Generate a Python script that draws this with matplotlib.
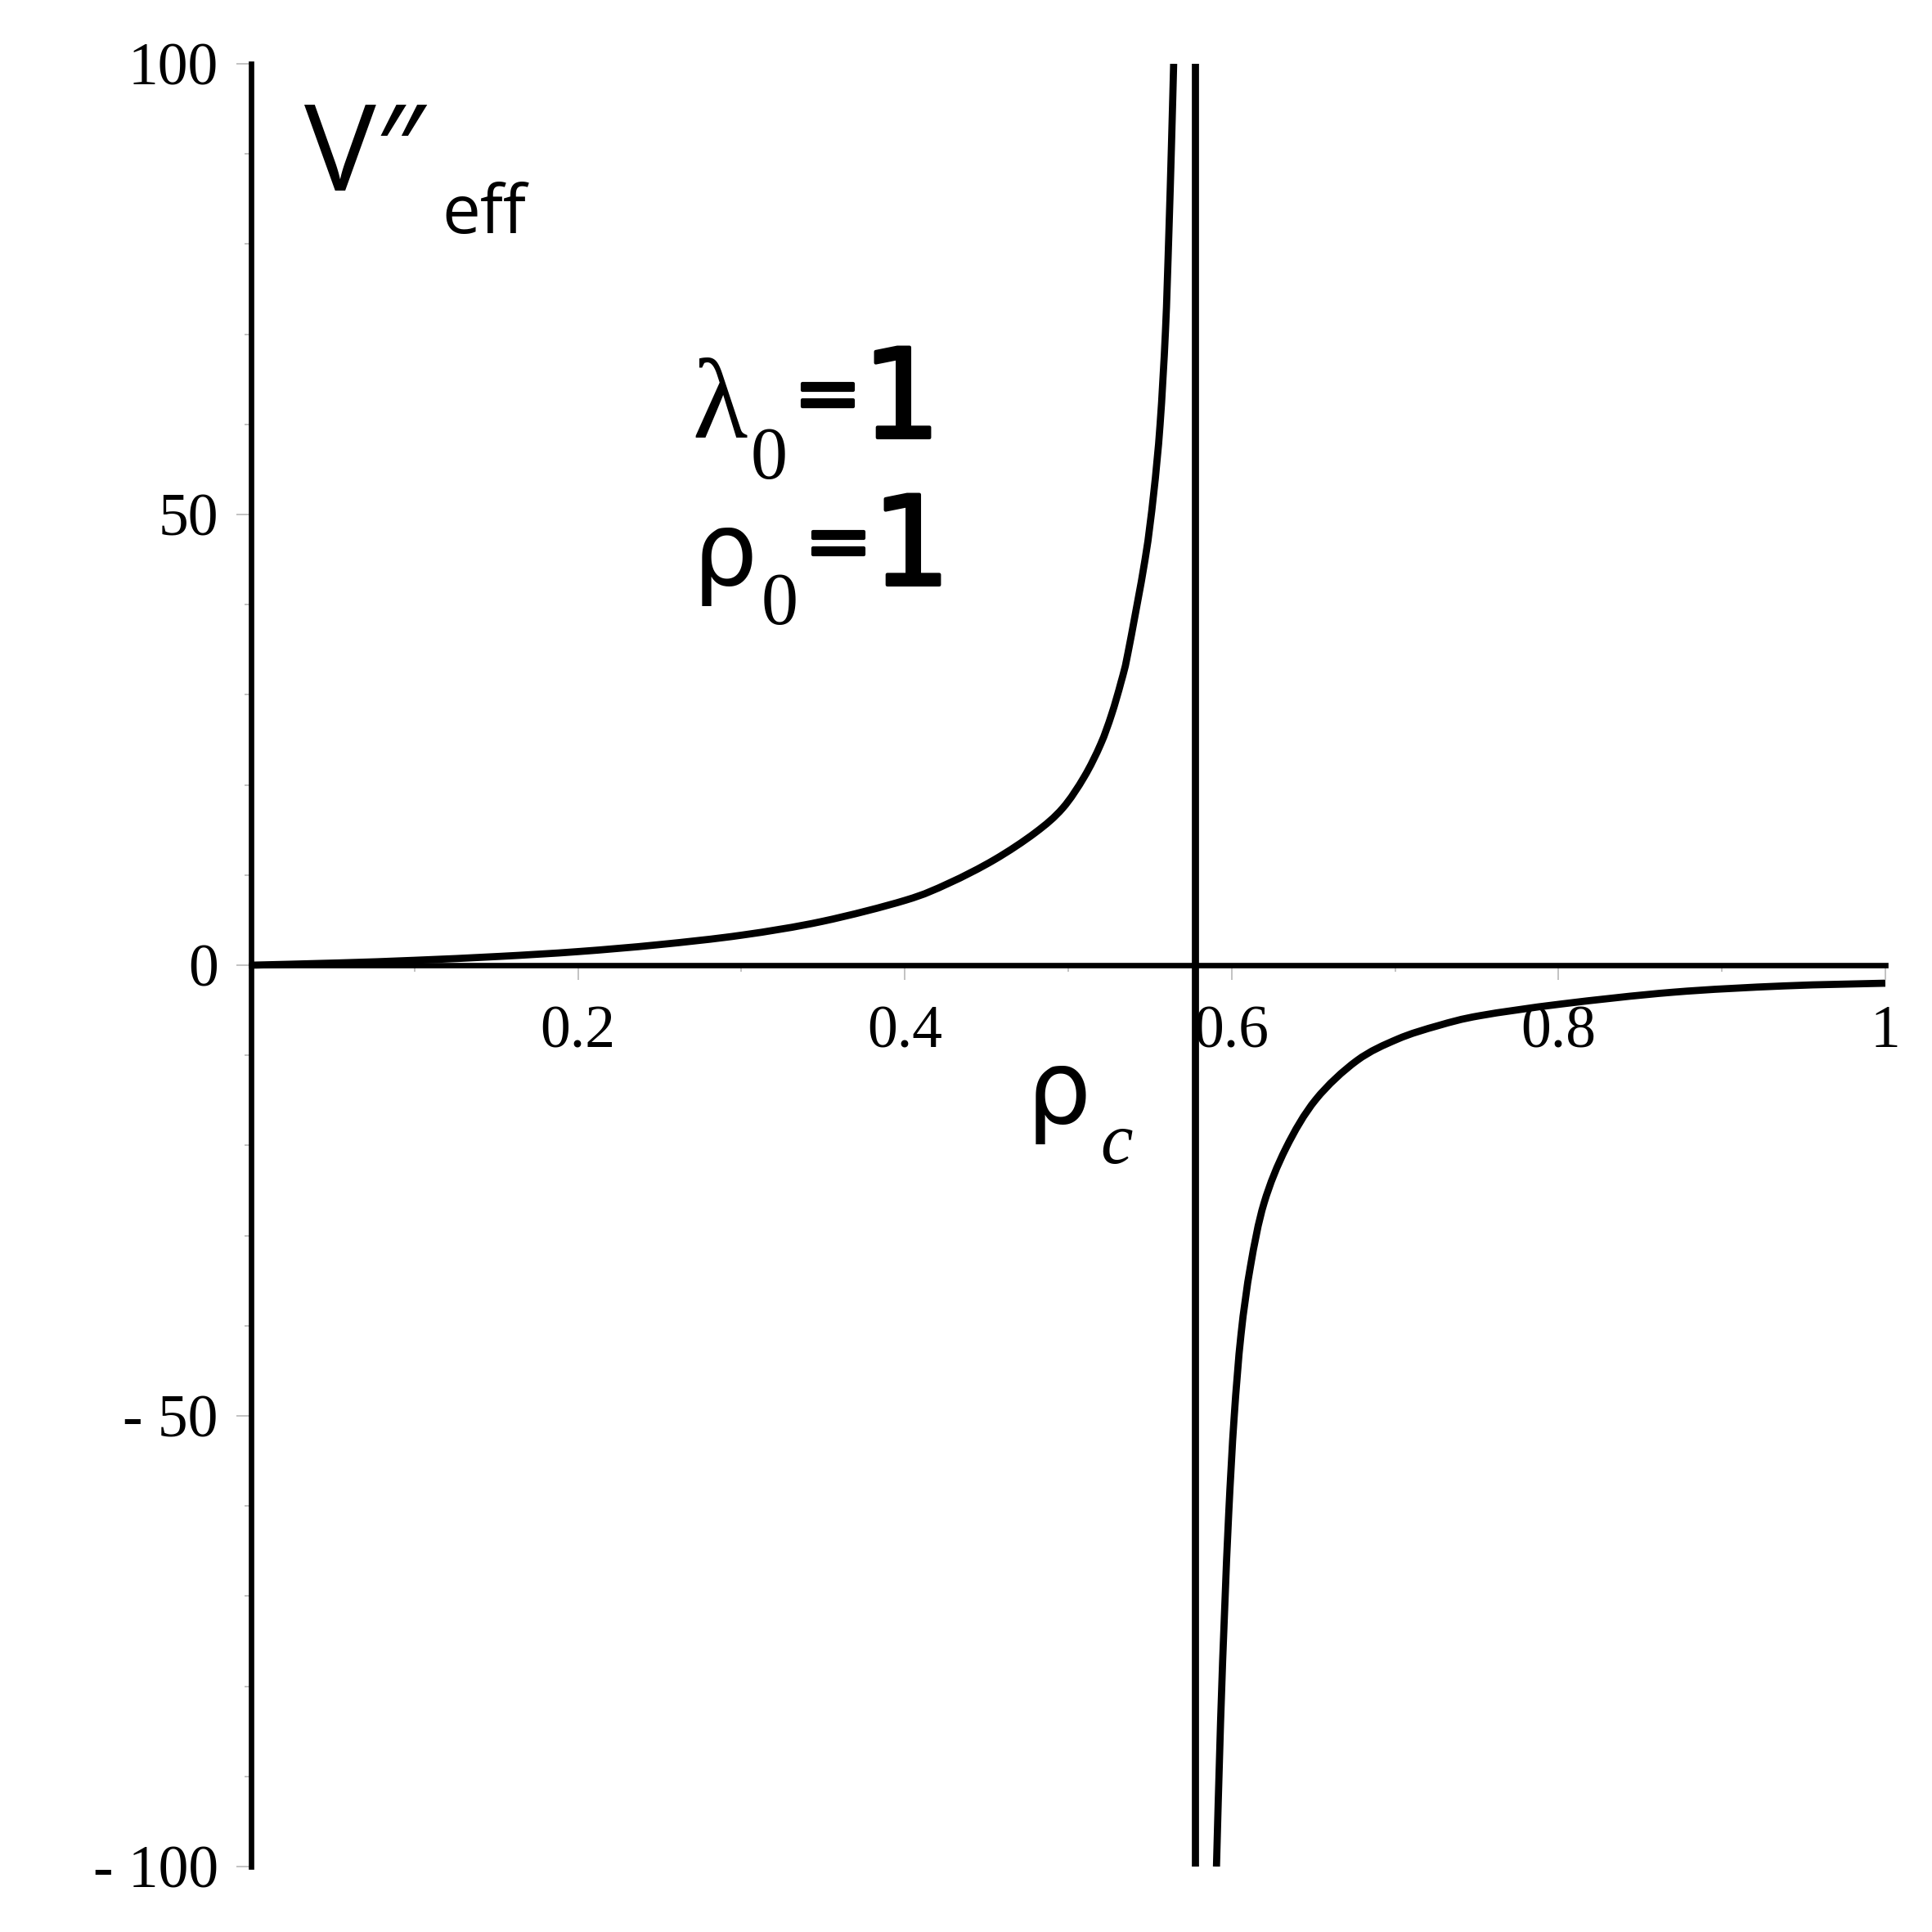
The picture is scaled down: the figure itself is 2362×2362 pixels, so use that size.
import numpy as np
import matplotlib
matplotlib.use('Agg')
import matplotlib.pyplot as plt
import matplotlib.patheffects as pe
from matplotlib.path import Path
from matplotlib.patches import PathPatch

# ramo antes da assintota
rho_esq = [0.0, 0.0539, 0.0998, 0.1515, 0.2003, 0.2491, 0.3001, 0.3495, 0.4003,
           0.427, 0.4548, 0.4798, 0.4965, 0.5098, 0.5198, 0.5265, 0.5323, 0.5365,
           0.5470, 0.5522, 0.5562, 0.5595, 0.5615, 0.5632, 0.5645]
v_esq = [0.0, 0.25, 0.54, 0.97, 1.51, 2.27, 3.33, 4.86, 7.2,
         9.1, 11.7, 14.7, 17.4, 20.9, 24.5, 27.8, 31.4, 34.6,
         45.0, 52.2, 60.0, 70.4, 80.8, 91.2, 100.0]

# ramo depois da assintota
rho_dir = [0.5907, 0.5932, 0.5957, 0.5982, 0.6015, 0.6057, 0.6115, 0.6198, 0.6332,
           0.6515, 0.6765, 0.7015, 0.7265, 0.752, 0.802, 0.870, 0.938, 1.0]
v_dir = [-100.0, -84.0, -71.5, -60.8, -50.2, -41.0, -33.4, -26.4, -20.3,
         -14.9, -10.6, -8.2, -6.7, -5.6, -4.3, -3.0, -2.3, -2.0]

rho_assintota = 0.5775

xticks = [0.2, 0.4, 0.6, 0.8, 1.0]
xtick_labels = ['0.2', '0.4', '0.6', '0.8', '1']
xticks_menores = [0.1, 0.3, 0.5, 0.7, 0.9]
yticks = [-100, -50, 0, 50, 100]
ytick_labels = ['- 100', '- 50', '0', '50', '100']
yticks_menores = [-90, -80, -70, -60, -40, -30, -20, -10, 10, 20, 30, 40, 60, 70, 80, 90]

plt.rcParams['font.family'] = 'Liberation Serif'


# curva suave passando pelos pontos lidos (Catmull-Rom -> Bezier)
def curvaSuave(x, y):
    p = np.column_stack([x, y])
    p_ext = np.vstack([p[0], p, p[-1]])
    verts = [p[0]]
    codes = [Path.MOVETO]
    for i in range(len(p) - 1):
        p0, p1, p2, p3 = p_ext[i], p_ext[i + 1], p_ext[i + 2], p_ext[i + 3]
        verts += [p1 + (p2 - p0) / 6, p2 - (p3 - p1) / 6, p2]
        codes += [Path.CURVE4] * 3
    return Path(verts, codes)


W = 2362
fig = plt.figure(figsize=(23.62, 23.62), dpi=100)
ax = fig.add_axes([307/W, 1 - 2282/W, (2305 - 307)/W, (2282 - 78)/W])

for xs, ys in [(rho_esq, v_esq), (rho_dir, v_dir)]:
    ax.add_patch(PathPatch(curvaSuave(xs, ys), fill=False, edgecolor='black',
                           lw=6.3, capstyle='butt', joinstyle='round'))
ax.plot([rho_assintota, rho_assintota], [-100, 100], color='black', lw=6.3)

ax.set_xlim(0, 1)
ax.set_ylim(-100, 100)

ax.spines['left'].set_position(('data', 0))
ax.spines['bottom'].set_position(('data', 0))
ax.spines['top'].set_visible(False)
ax.spines['right'].set_visible(False)
for s in ['left', 'bottom']:
    ax.spines[s].set_linewidth(4.8)
    ax.spines[s].set_color('black')

ax.set_xticks(xticks)
ax.set_xticklabels(xtick_labels)
ax.set_xticks(xticks_menores, minor=True)
ax.set_yticks(yticks)
ax.set_yticklabels(ytick_labels)
ax.set_yticks(yticks_menores, minor=True)

ax.tick_params(which='major', length=13, width=1.3, color='#bdbdbd',
               direction='out', labelsize=53)
ax.tick_params(which='minor', length=6, width=1.3, color='#bdbdbd', direction='out')
ax.tick_params(axis='x', which='major', pad=22)
ax.tick_params(axis='y', which='major', pad=16)

engrossa = [pe.withStroke(linewidth=3, foreground='black')]


def put(px, py, s, **kw):
    fig.text(px / W, 1 - py / W, s, va='baseline', ha='left', **kw)


# V''_eff
put(372, 233, 'V\u2033', family=['Open Sans', 'DejaVu Sans'], size=106)
put(540, 285, 'eff', family='Open Sans', size=60)

# lambda_0 = 1
put(846, 535, '\u03bb', family='Liberation Serif', size=100)
put(918, 585, '0', family='Liberation Serif', size=65)
put(970, 514, '=', family='DejaVu Sans', size=72, path_effects=engrossa)
put(1054, 535, '1', family='DejaVu Sans', size=109, path_effects=engrossa)

# rho_0 = 1
put(847, 715, '\u03c1', family='DejaVu Sans', size=90)
put(931, 763, '0', family='Liberation Serif', size=65)
put(983, 695, '=', family='DejaVu Sans', size=72, path_effects=engrossa)
put(1066, 715, '1', family='DejaVu Sans', size=109, path_effects=engrossa)

# rho_c
put(1255, 1373, '\u03c1', family='DejaVu Sans', size=90)
put(1345, 1422, 'c', family='Liberation Serif', style='italic', size=64)

fig.savefig('out.png', dpi=100, facecolor='white')
